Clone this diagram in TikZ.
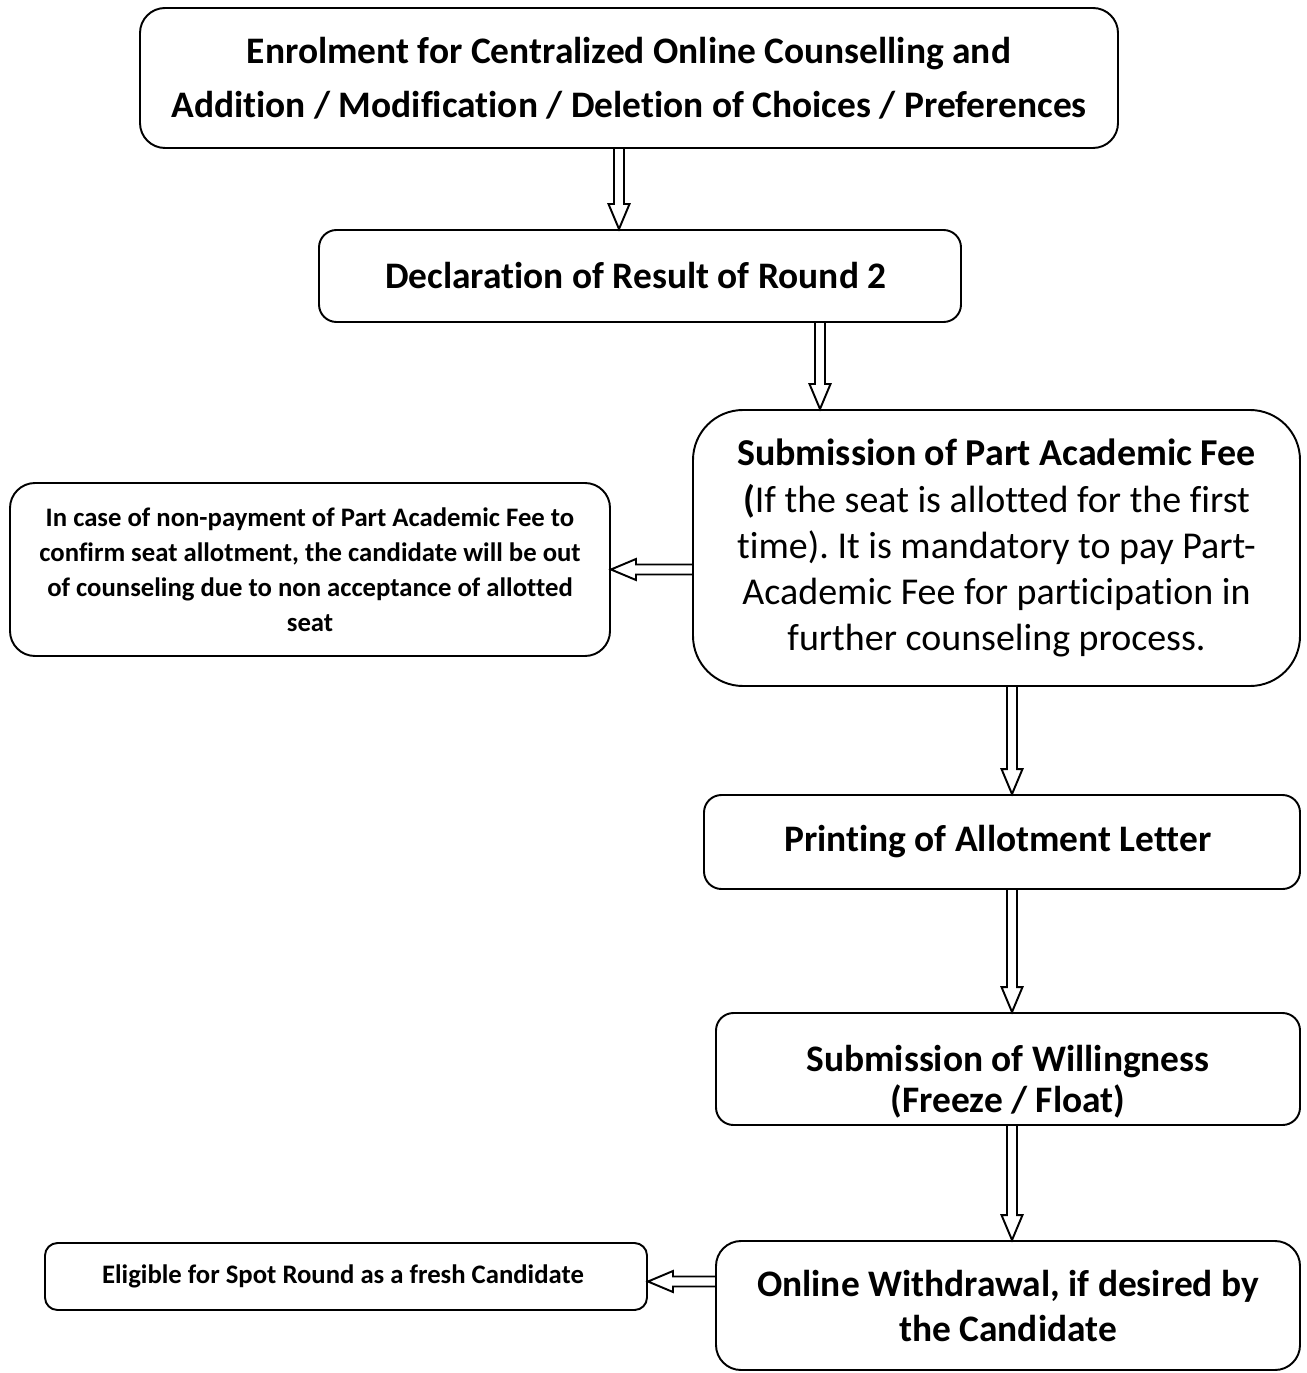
\documentclass[tikz,border=0pt]{standalone}
\usepackage{fontspec}
\setmainfont{Carlito}[Ligatures={NoCommon}]
\frenchspacing
\usetikzlibrary{calc}

% hollow block arrow from #1 to #2
\newcommand{\blockarrow}[2]{%
  \coordinate (ba-s) at #1;
  \coordinate (ba-e) at #2;
  \coordinate (ba-b) at ($(ba-e)!0.5cm!(ba-s)$);
  \draw[blockline] ($(ba-s)!0.1cm!90:(ba-e)$) -- ($(ba-b)!0.1cm!-90:(ba-s)$)
    -- ($(ba-b)!0.21cm!-90:(ba-s)$) -- (ba-e) -- ($(ba-b)!0.21cm!90:(ba-s)$)
    -- ($(ba-b)!0.1cm!90:(ba-s)$) -- ($(ba-s)!0.1cm!-90:(ba-e)$);
}

\begin{document}
\begin{tikzpicture}[flowbox/.style={draw, line width=1.1pt, align=center, inner sep=0pt, rounded corners=#1},
	flowbox/.default=0.35cm,
	bigtext/.style={font=\fontsize{21.3pt}{#1}\selectfont\bfseries},
	plaintext/.style={font=\fontsize{21.6pt}{#1}\selectfont},
	smalltext/.style={font=\fontsize{15.2pt}{20pt}\selectfont\bfseries},
	blockline/.style={draw, line width=1.1pt, line join=miter}]
				\useasboundingbox (0,0) rectangle (26.12,-27.46);
				\node[flowbox=0.5cm, minimum width=19.56cm, minimum height=2.8cm, bigtext=30.7pt] (enrol) at (12.58,-1.56) {
					Enrolment for Centralized Online Counselling and\\
					Addition / Modification / Deletion of Choices / Preferences
				};
				\node[flowbox, minimum width=12.84cm, minimum height=1.84cm, bigtext=26pt] (result) at (12.80,-5.52) {
					Declaration of Result of Round 2
				};
				\node[flowbox=1cm, minimum width=12.14cm, minimum height=5.52cm, plaintext=26.2pt] (fee) at (19.93,-10.96) {
					\textbf{Submission of Part Academic Fee}\\
					\textbf{(}If the seat is allotted for the first\\
					time). It is mandatory to pay Part-\\
					Academic Fee for participation in\\
					further counseling process.
				};
				\node[flowbox=0.5cm, minimum width=12.0cm, minimum height=3.46cm, smalltext] (outnote) at (6.20,-11.39) {
					In case of non-payment of Part Academic Fee to\\
					confirm seat allotment, the candidate will be out\\
					of counseling due to non acceptance of allotted\\
					seat
				};
				\node[flowbox, minimum width=11.92cm, minimum height=1.88cm, bigtext=26pt] (letter) at (20.04,-16.84) {
					Printing of Allotment Letter
				};
				\node[flowbox, minimum width=11.68cm, minimum height=2.24cm, bigtext=23.5pt, text height=50pt, text depth=0pt] (willing) at (20.16,-21.38) {
					Submission of Willingness\\
					(Freeze / Float)
				};
				\node[flowbox=0.5cm, minimum width=11.68cm, minimum height=2.58cm, bigtext=25.6pt] (withdraw) at (20.16,-26.11) {
					Online Withdrawal, if desired by\\
					the Candidate
				};
				\node[flowbox=0.25cm, minimum width=12.04cm, minimum height=1.34cm, smalltext] (spot) at (6.92,-25.53) {
					Eligible for Spot Round as a fresh Candidate
				};
				% arrows
				\blockarrow{($(enrol.south)+(-0.2,0)$)}{($(result.north)+(-0.42,0)$)}
				\coordinate (a2) at ($(result.south)+(3.6,0)$);
				\blockarrow{(a2)}{(a2 |- fee.north)}
				\blockarrow{(fee.west |- outnote.east)}{(outnote.east)}
				\coordinate (a4) at ($(fee.south)+(0.31,0)$);
				\blockarrow{(a4)}{(a4 |- letter.north)}
				\blockarrow{(a4 |- letter.south)}{(a4 |- willing.north)}
				\blockarrow{(a4 |- willing.south)}{(a4 |- withdraw.north)}
				\coordinate (a7) at ($(spot.east)+(0,-0.1)$);
				\blockarrow{(withdraw.west |- a7)}{(a7)}
				\end{tikzpicture}
\end{document}
